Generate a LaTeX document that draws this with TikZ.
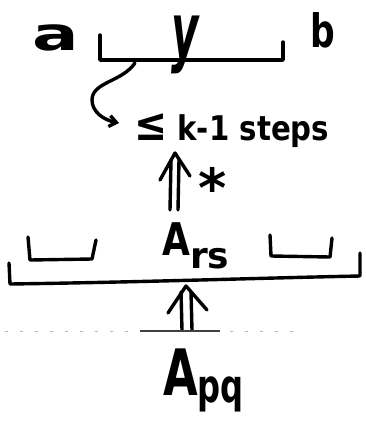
\documentclass[tikz,border=0pt]{standalone}
\usepackage{fontspec}
\setmainfont{DejaVu Sans}
\usetikzlibrary{arrows.meta,calc}
\begin{document}
\begin{tikzpicture}[x=1pt,y=-1pt,
  stroke/.style={line width=3.4pt,line cap=round,line join=round},
  lbl/.style={inner sep=0pt,font=\bfseries}]
\useasboundingbox (0,0) rectangle (365,424);
% ---- top row
\node[lbl,anchor=base west] (a) at (32,50) {\fontsize{46}{50}\selectfont\scalebox{1.5}[1]{a}};
\node[lbl,anchor=base,text height=42pt,text depth=18pt] (y) at (185,57) {\fontsize{76}{80}\selectfont\itshape\scalebox{0.55}[1]{y}};
\node[lbl,anchor=base west] (b) at (310,47) {\fontsize{46}{50}\selectfont\scalebox{0.75}[1]{b}};
\draw[stroke] (100,35) -- (100,60) -- (283,60) -- (283,42);
\coordinate (yb) at (135,63);
\coordinate (tip) at (119,123);
\node[lbl,anchor=base west] (steps) at (134,140) {\fontsize{34}{38}\selectfont\scalebox{0.86}[1]{{\fontsize{46}{50}\selectfont ≤} k-1 steps}};
\draw[stroke,-{Straight Barb[length=7pt,width=11pt]}] (yb) .. controls (122,82) and (92,82) .. (92,100)
  .. controls (92,112) and (104,120) .. (tip);
% ---- middle
\coordinate (u1t) at (175,153);
\coordinate (u1b) at (174,210);
\draw[stroke] ([xshift=-4pt]u1b) -- ([xshift=-4pt,yshift=-7pt]u1t);
\draw[stroke] ([xshift=4pt]u1b) -- ([xshift=4pt,yshift=-7pt]u1t);
\draw[stroke] ($(u1t)+(-15,27)$) -- (u1t) -- ($(u1t)+(15,23)$);
\node[lbl] (star) at (213,187) {\fontsize{54}{58}\selectfont *};
\node[lbl,anchor=base west] (Ars) at (162,255) {\fontsize{45}{50}\selectfont\scalebox{0.8}[1]{A}\raisebox{-13pt}{\fontsize{36}{40}\selectfont rs}};
\draw[stroke] (28,237) -- (30,260) -- (92,259) -- (96,240);
\draw[stroke] (270,235) -- (271,256) -- (330,257) -- (332,238);
\draw[stroke] (9,263) -- (10,284) .. controls (150,282) and (260,278) .. (360,276) -- (360,253);
% ---- bottom
\coordinate (u2t) at (186,286);
\coordinate (u2b) at (187,330);
\draw[stroke] ([xshift=-5pt]u2b) -- ([xshift=-5pt,yshift=-6pt]u2t);
\draw[stroke] ([xshift=5pt]u2b) -- ([xshift=5pt,yshift=-6pt]u2t);
\draw[stroke] ($(u2t)+(-18,27)$) -- (u2t) -- ($(u2t)+(21,24)$);
\draw[gray!55,line width=0.8pt,dash pattern=on 3pt off 12pt] (5,331) -- (300,331);
\draw[black!75,line width=1.2pt] (140,331) -- (220,331);
\node[lbl,anchor=base west] (Apq) at (163,395) {\fontsize{64}{68}\selectfont\scalebox{0.7}[1]{A}\raisebox{-7pt}{\fontsize{46}{50}\selectfont\scalebox{0.7}[1]{pq}}};
\end{tikzpicture}
\end{document}
